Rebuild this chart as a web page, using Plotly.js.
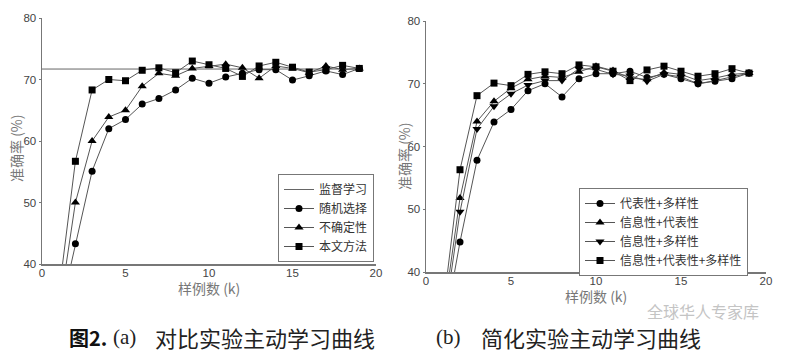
<!DOCTYPE html>
<html>
<head>
<meta charset="utf-8">
<script src="https://cdn.plot.ly/plotly-3.0.1.min.js"></script>
<style>html,body{margin:0;padding:0;background:#fff;}#chart{width:804px;height:354px;}</style>
</head>
<body>
<div id="chart"></div>
<script>
// ---- data ----
const samples = [1,2,3,4,5,6,7,8,9,10,11,12,13,14,15,16,17,18,19];
const xTicks = [0,5,10,15,20];
const yTicks = [40,50,60,70,80];

// (a) comparison experiment
const supervisedX = [0, 19.2];
const supervisedY = [71.7, 71.7];
const randomSel   = [31.1,43.3,55.1,62.0,63.5,66.0,66.9,68.3,70.2,69.4,70.4,71.0,71.6,71.6,69.9,70.6,71.4,70.8,71.8];
const uncertainty = [31.8,50.0,60.0,63.9,65.0,68.9,71.0,70.6,71.8,72.2,72.5,71.9,70.2,72.2,71.8,71.1,72.2,71.6,71.8];
const proposed    = [35.0,56.7,68.3,70.0,69.8,71.5,71.9,71.1,73.0,72.4,71.8,70.5,72.2,72.8,72.0,71.2,71.6,72.3,71.8];

// (b) ablation experiment
const repDiv     = [29.8,44.8,57.8,63.9,65.9,68.9,70.0,67.9,70.8,71.6,71.6,72.0,71.0,71.5,70.8,70.0,70.4,70.8,71.7];
const infoRep    = [32.5,51.8,64.0,67.2,69.3,70.7,71.2,71.0,71.9,72.8,72.1,70.9,70.7,71.8,71.5,70.5,70.9,71.5,71.7];
const infoDiv    = [30.8,49.6,62.8,66.4,68.4,69.8,70.5,70.5,72.4,72.3,71.5,71.3,70.4,71.5,71.1,70.0,70.5,71.1,71.7];
const infoRepDiv = [34.0,56.3,68.1,70.1,69.7,71.5,71.9,71.6,73.0,72.7,72.0,70.5,72.2,72.8,72.0,71.2,71.6,72.4,71.7];

const namesA = ['监督学习','随机选择','不确定性','本文方法'];
const namesB = ['代表性+多样性','信息性+代表性','信息性+多样性','信息性+代表性+多样性'];
const xTitle = '样例数 (k)';
const yTitle = '准确率 (%)';

// ---- styles ----
const LINE = {color:'#555', width:1};
const FONT = 'Liberation Sans, Arial, Noto Sans CJK SC, sans-serif';
const CJK = 'Noto Sans CJK SC, sans-serif';

function tr(x, y, name, symbol, xa, ya, legend, size) {
  return {x:x, y:y, name:name, type:'scatter', mode:'lines+markers',
    xaxis:xa, yaxis:ya, legend:legend,
    line:LINE, marker:{symbol:symbol, size:size||7, color:'#000'}};
}

const data = [
  {x:supervisedX, y:supervisedY, name:namesA[0], type:'scatter', mode:'lines',
   xaxis:'x', yaxis:'y', legend:'legend', line:{color:'#666', width:1}},
  tr(samples, randomSel, namesA[1], 'circle', 'x', 'y', 'legend', 7),
  tr(samples, uncertainty, namesA[2], 'triangle-up', 'x', 'y', 'legend', 8),
  tr(samples, proposed, namesA[3], 'square', 'x', 'y', 'legend', 7),
  tr(samples, repDiv, namesB[0], 'circle', 'x2', 'y2', 'legend2', 7),
  tr(samples, infoRep, namesB[1], 'triangle-up', 'x2', 'y2', 'legend2', 8),
  tr(samples, infoDiv, namesB[2], 'triangle-down', 'x2', 'y2', 'legend2', 8),
  tr(samples, infoRepDiv, namesB[3], 'square', 'x2', 'y2', 'legend2', 7)
];

function xax(domain, anchor) {
  return {domain:domain, anchor:anchor, range:[0,20], tickvals:xTicks, showgrid:false, zeroline:false,
    showline:true, linecolor:'#777', linewidth:1.5, ticks:'', ticklabelstandoff:-2,
    tickfont:{family:FONT, size:11.5, color:'#444'}};
}
function yax(domain, anchor) {
  return {domain:domain, anchor:anchor, range:[40,80], tickvals:yTicks, showgrid:false, zeroline:false,
    showline:true, linecolor:'#777', linewidth:1.5, ticks:'outside', ticklen:2, tickcolor:'#777',
    tickfont:{family:FONT, size:11.5, color:'#444'}};
}

const legStyle = {bgcolor:'#fff', bordercolor:'#777', borderwidth:1,
  font:{family:CJK, size:12, color:'#333'}, xanchor:'left', yanchor:'top', tracegroupgap:0};

function ann(x, y, text, font, extra) {
  return Object.assign({xref:'paper', yref:'paper', x:x/804, y:1-y/354, xanchor:'left', yanchor:'middle',
    showarrow:false, text:text, font:font}, extra || {});
}
const titleFont = {family:CJK, size:14, color:'#777'};

const layout = {
  width:804, height:354, margin:{l:0, r:0, t:0, b:0},
  paper_bgcolor:'#fff', plot_bgcolor:'#fff',
  xaxis: xax([42/804, 376/804], 'y'),
  yaxis: yax([1-264/354, 1-18/354], 'x'),
  xaxis2: xax([426/804, 766/804], 'y2'),
  yaxis2: yax([1-272/354, 1-21/354], 'x2'),
  legend: Object.assign({x:278/804, y:1-174/354}, legStyle),
  legend2: Object.assign({x:579/804, y:1-188/354}, legStyle),
  annotations: [
    // axis titles
    ann(209, 288, xTitle, titleFont, {xanchor:'center'}),
    ann(596, 296, xTitle, titleFont, {xanchor:'center'}),
    ann(16, 148, yTitle, titleFont, {xanchor:'center', textangle:-90}),
    ann(404, 156, yTitle, titleFont, {xanchor:'center', textangle:-90}),
    // caption
    ann(67, 337, '<b>图2.</b>', {family:CJK, size:20, color:'#111'}),
    ann(111, 337, '(a)', {family:'Liberation Serif, serif', size:21, color:'#222'}),
    ann(153, 337, '对比实验主动学习曲线', {family:CJK, size:22, color:'#222'}),
    ann(434, 337, '(b)', {family:'Liberation Serif, serif', size:21, color:'#222'}),
    ann(479, 337, '简化实验主动学习曲线', {family:CJK, size:22, color:'#222'}),
    // watermark
    ann(645, 311, '全球华人专家库', {family:CJK, size:16, color:'#c4c4c4'})
  ]
};

Plotly.newPlot('chart', data, layout, {staticPlot:true, displayModeBar:false});
</script>
</body>
</html>
